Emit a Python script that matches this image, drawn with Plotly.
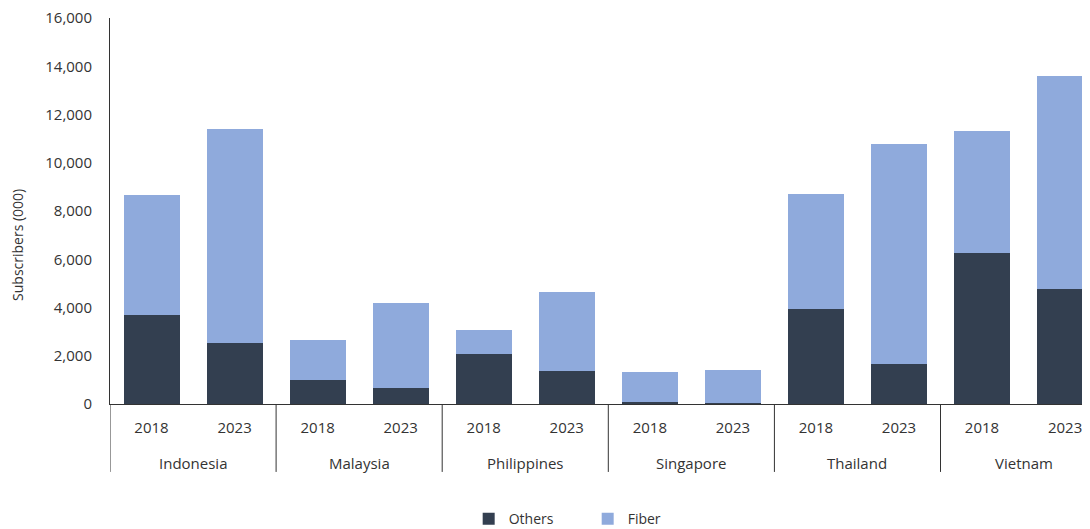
import plotly.graph_objects as go

countries = ["Indonesia", "Malaysia", "Philippines", "Singapore", "Thailand", "Vietnam"]
years = ["2018", "2023"]
others = [3700, 2520, 1000, 650, 2070, 1370, 80, 30, 3940, 1670, 6270, 4780]
totals = [8650, 11400, 2650, 4200, 3070, 4640, 1330, 1420, 8690, 10790, 11300, 13600]
fiber = [t - o for t, o in zip(totals, others)]

keys = [f"{c}|{y}" for c in countries for y in years]
year_labels = [y for c in countries for y in years]

FONT = "Open Sans"
TXT = "#333333"
LINE = "#333333"

fig = go.Figure()
fig.add_trace(go.Bar(x=keys, y=others, name="Others",
                     marker=dict(color="#333F50", line=dict(width=0))))
fig.add_trace(go.Bar(x=keys, y=fiber, name="Fiber",
                     marker=dict(color="#8FAADC", line=dict(width=0))))

# country labels and group dividers beneath the axis
n = len(years)
for i, c in enumerate(countries):
    fig.add_annotation(x=i * n + (n - 1) / 2, y=-0.153, xref="x", yref="paper",
                       text=c, showarrow=False, yanchor="middle",
                       font=dict(size=15, color=TXT, family=FONT))
for i in range(len(countries) + 1):
    fig.add_shape(type="line", xref="x", yref="paper",
                  x0=i * n - 0.5, x1=i * n - 0.5, y0=0, y1=-0.176,
                  line=dict(color=LINE, width=1))

fig.add_annotation(x=-0.0939, y=0.412, xref="paper", yref="paper",
                   text="Subscribers (000)", textangle=-90, showarrow=False,
                   xanchor="center", yanchor="middle",
                   font=dict(size=14, color=TXT, family=FONT))

# page body has an 8px margin, so the figure is shifted by 8px in the window
fig.update_layout(
    width=1082, height=521,
    barmode="stack", bargap=0.325,
    plot_bgcolor="white", paper_bgcolor="white",
    margin=dict(l=102, r=0, t=10, b=125, autoexpand=False),
    font=dict(family=FONT, size=14, color=TXT),
    showlegend=True,
    legend=dict(orientation="h", x=0.366, xanchor="left", y=-0.298, yanchor="middle",
                font=dict(size=14, color=TXT), entrywidth=74, entrywidthmode="pixels",
                traceorder="normal"),
    xaxis=dict(type="category", range=[-0.5, 11.3], showline=True, automargin=False,
               linecolor=LINE, linewidth=1, ticks="", showgrid=False,
               tickmode="array", tickvals=keys, ticktext=year_labels,
               ticklabelstandoff=10,
               tickfont=dict(size=15, color=TXT, family=FONT)),
    yaxis=dict(range=[0, 16000], dtick=2000, tickformat=",d", showgrid=False,
               showline=True, linecolor=LINE, linewidth=1, ticks="", automargin=False,
               zeroline=False, ticklabelstandoff=14, ticklabeloverflow="allow",
               tickfont=dict(size=15, color=TXT, family=FONT)),
)

fig.write_html("out.html")
